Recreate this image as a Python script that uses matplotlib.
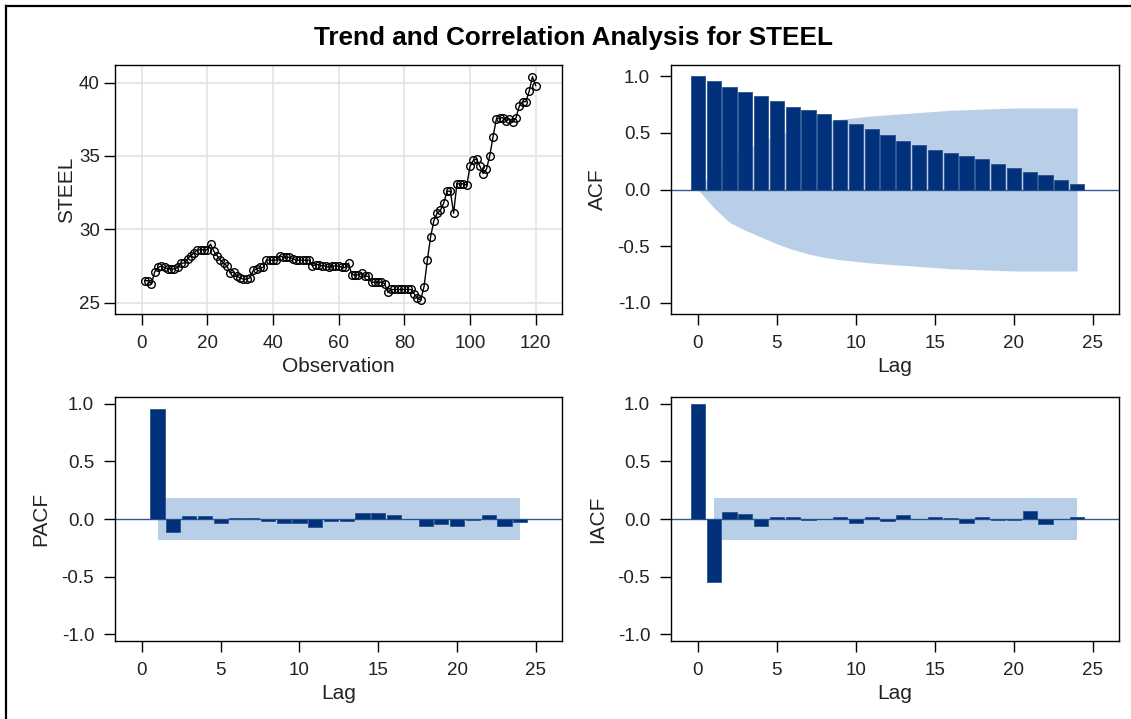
import numpy as np
import matplotlib
matplotlib.use('Agg')
import matplotlib.pyplot as plt
from matplotlib.lines import Line2D

plt.rcParams['font.family'] = ['Liberation Sans', 'DejaVu Sans']

# STEEL series, observations 1..120
steel = [26.5, 26.5, 26.3, 27.1, 27.4, 27.5, 27.4, 27.3, 27.3, 27.3,
         27.4, 27.7, 27.7, 28.0, 28.2, 28.4, 28.6, 28.6, 28.6, 28.6,
         29.0, 28.5, 28.2, 27.9, 27.7, 27.5, 27.0, 27.1, 26.8, 26.7,
         26.6, 26.6, 26.7, 27.2, 27.3, 27.4, 27.4, 27.9, 27.9, 27.9,
         27.9, 28.2, 28.1, 28.1, 28.1, 28.0, 27.9, 27.9, 27.9, 27.9,
         27.9, 27.5, 27.6, 27.6, 27.5, 27.5, 27.4, 27.5, 27.5, 27.5,
         27.4, 27.4, 27.7, 26.9, 26.9, 26.9, 27.0, 26.8, 26.8, 26.4,
         26.4, 26.4, 26.4, 26.3, 25.7, 25.9, 25.9, 25.9, 25.9, 25.9,
         25.9, 25.9, 25.6, 25.3, 25.2, 26.1, 27.9, 29.5, 30.6, 31.1,
         31.3, 31.8, 32.6, 32.6, 31.1, 33.1, 33.1, 33.1, 33.0, 34.3,
         34.7, 34.8, 34.3, 33.8, 34.1, 35.0, 36.3, 37.5, 37.6, 37.6,
         37.4, 37.5, 37.3, 37.6, 38.4, 38.7, 38.7, 39.4, 40.4, 39.8]
obs = np.arange(1, len(steel) + 1)

lags = np.arange(0, 25)
acf = [1.0, 0.956, 0.903, 0.865, 0.824, 0.785, 0.732, 0.706, 0.668, 0.615,
       0.576, 0.535, 0.482, 0.432, 0.394, 0.353, 0.324, 0.300, 0.271, 0.229,
       0.194, 0.153, 0.129, 0.088, 0.047]
acf_band = [0.0, 0.16, 0.29, 0.36, 0.42, 0.48, 0.53, 0.57, 0.60, 0.62,
            0.635, 0.65, 0.66, 0.67, 0.68, 0.69, 0.70, 0.705, 0.71, 0.715,
            0.72, 0.72, 0.72, 0.72, 0.72]

pacf_lags = np.arange(1, 25)
pacf = [0.957, -0.109, 0.023, 0.023, -0.034, 0.011, 0.011, -0.020, -0.034, -0.034,
        -0.072, -0.020, -0.020, 0.049, 0.049, 0.034, 0.0, -0.060, -0.043, -0.060,
        -0.009, 0.034, -0.060, -0.030]

iacf = [1.0, -0.55, 0.057, 0.046, -0.058, 0.020, 0.020, -0.006, 0.0, 0.020,
        -0.035, 0.020, -0.020, 0.032, 0.0, 0.020, 0.006, -0.035, 0.020, -0.009,
        -0.009, 0.072, -0.046, 0.0, 0.020]

white_noise_limit = 0.185

bar_color = '#00317A'
band_color = '#B9CFE7'
ref_color = '#2F5B97'
text_color = '#222222'

W, H = 1131, 719
fig = plt.figure(figsize=(W / 100, H / 100), dpi=100)


def rect(l, t, r, b):
    return [l / W, 1 - b / H, (r - l) / W, (b - t) / H]


def style(ax, ylabel, xlabel, ylabel_x):
    for s in ax.spines.values():
        s.set_linewidth(1.0)
        s.set_color('black')
    ax.tick_params(direction='out', length=8, width=1, labelsize=13.5,
                   labelcolor=text_color, pad=7)
    ax.set_ylabel(ylabel, fontsize=15, color=text_color)
    ax.yaxis.set_label_coords(ylabel_x, 0.5)
    ax.set_xlabel(xlabel, fontsize=15, color=text_color, labelpad=3.5)


def corr_panel(ax, x, y, ylabel, band_x, band_lo, band_hi, ylim, ylabel_x):
    ax.fill_between(band_x, band_lo, band_hi, color=band_color, lw=0, zorder=1)
    ax.axhline(0, color=ref_color, lw=1.0, zorder=2)
    ax.bar(x, y, width=0.9, color=bar_color, edgecolor='#2A5290',
           linewidth=0.6, zorder=3)
    ax.set_xlim(-1.7, 26.65)
    ax.set_ylim(-ylim, ylim)
    ax.set_xticks([0, 5, 10, 15, 20, 25])
    ax.set_yticks([-1.0, -0.5, 0.0, 0.5, 1.0])
    ax.set_yticklabels(['-1.0', '-0.5', '0.0', '0.5', '1.0'])
    style(ax, ylabel, 'Lag', ylabel_x)


# series plot
ax1 = fig.add_axes(rect(115, 65, 562, 314))
ax1.grid(True, color='#E3E3E3', lw=1.2, zorder=0)
ax1.set_axisbelow(True)
ax1.plot(obs, steel, color='black', lw=1.0, marker='o', ms=5.5,
         mfc='none', mec='black', mew=1.0, zorder=3)
ax1.set_xlim(-8.1, 128.0)
ax1.set_ylim(24.23, 41.2)
ax1.set_xticks(range(0, 121, 20))
ax1.set_yticks([25, 30, 35, 40])
style(ax1, 'STEEL', 'Observation', -0.087)
ax1.tick_params(axis='y', pad=3)

# ACF
ax2 = fig.add_axes(rect(671, 65, 1119, 314))
acf_band = np.array(acf_band)
corr_panel(ax2, lags, acf, 'ACF', lags, -acf_band, acf_band, 1.1, -0.143)

# PACF
ax3 = fig.add_axes(rect(115, 397, 562, 641))
corr_panel(ax3, pacf_lags, pacf, 'PACF', [1, 24],
           [-white_noise_limit] * 2, [white_noise_limit] * 2, 1.06, -0.145)

# IACF
ax4 = fig.add_axes(rect(671, 397, 1119, 641))
corr_panel(ax4, lags, iacf, 'IACF', [1, 24],
           [-white_noise_limit] * 2, [white_noise_limit] * 2, 1.06, -0.143)

fig.text(573 / W, 1 - 38 / H, 'Trend and Correlation Analysis for STEEL',
         ha='center', va='center', fontsize=18.8, fontweight='bold', color='black')

# outer frame (left and top edges)
fig.add_artist(Line2D([6 / W, 6 / W], [0, 1 - 6 / H], transform=fig.transFigure,
                      color='black', lw=1.6))
fig.add_artist(Line2D([6 / W, 1], [1 - 6 / H, 1 - 6 / H], transform=fig.transFigure,
                      color='black', lw=1.6))

fig.savefig('out.png', dpi=100)
